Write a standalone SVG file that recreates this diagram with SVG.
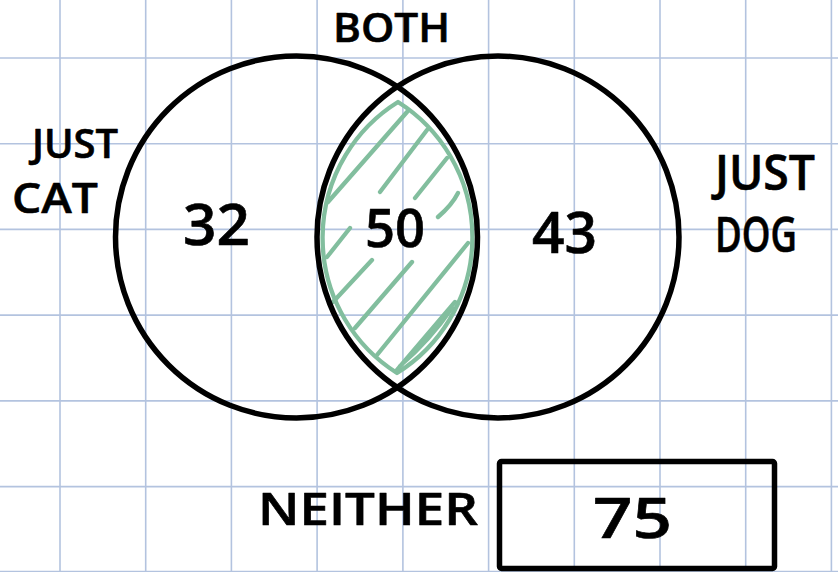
<svg xmlns="http://www.w3.org/2000/svg" width="838" height="572" viewBox="0 0 838 572">
<style>
.grid line{stroke:#b3c3df;stroke-width:1.6}
.ink{fill:none;stroke:#000;stroke-width:5.5;stroke-linecap:round;stroke-linejoin:round}
.hatch{fill:none;stroke:#82be9e;stroke-width:4.3;stroke-linecap:round;stroke-linejoin:round}
.lbl{font-family:"Open Sans","Liberation Sans",sans-serif;font-weight:600;fill:#000;stroke:#000;stroke-width:0.6;stroke-linejoin:round}
</style>
<rect width="838" height="572" fill="#fff"/>
<g class="grid" id="grid">
<line x1="60" y1="0" x2="60" y2="572"/>
<line x1="145.7" y1="0" x2="145.7" y2="572"/>
<line x1="231.4" y1="0" x2="231.4" y2="572"/>
<line x1="317.1" y1="0" x2="317.1" y2="572"/>
<line x1="402.9" y1="0" x2="402.9" y2="572"/>
<line x1="488.6" y1="0" x2="488.6" y2="572"/>
<line x1="574.3" y1="0" x2="574.3" y2="572"/>
<line x1="660" y1="0" x2="660" y2="572"/>
<line x1="745.7" y1="0" x2="745.7" y2="572"/>
<line x1="831.4" y1="0" x2="831.4" y2="572"/>
<line x1="0" y1="58" x2="838" y2="58"/>
<line x1="0" y1="143.7" x2="838" y2="143.7"/>
<line x1="0" y1="229.4" x2="838" y2="229.4"/>
<line x1="0" y1="315.1" x2="838" y2="315.1"/>
<line x1="0" y1="400.9" x2="838" y2="400.9"/>
<line x1="0" y1="486.6" x2="838" y2="486.6"/>
<line x1="0" y1="571.6" x2="838" y2="571.6"/>
</g>
<g id="both-region">
<path class="hatch" d="M398,102 A160,160 0 0 0 397,373 A160,160 0 0 0 398,102 Z"/>
<path class="hatch" d="M328,202 L407,112 M380,192 L427,130 M415,198 L447,158 M438,217 Q452,205 458,193 M327,257 L350,228 M333,302 L372,260 M355,328 L412,262 M377,355 L468,243 M397,370 L455,302 M400,366 Q430,340 452,308"/>
</g>
<g id="just-cat">
<circle class="ink" cx="296.5" cy="237" r="181"/>
</g>
<g id="just-dog">
<circle class="ink" cx="498" cy="237" r="181"/>
</g>
<g id="neither">
<rect class="ink" x="499.5" y="461.5" width="275" height="107" rx="2"/>
</g>
<g id="connectors"></g>
<g id="labels">
<text class="lbl" x="333" y="42" font-size="40" textLength="117" lengthAdjust="spacingAndGlyphs">BOTH</text>
<text class="lbl" x="32" y="158" font-size="39" textLength="86" lengthAdjust="spacingAndGlyphs">JUST</text>
<text class="lbl" x="12" y="213" font-size="42" textLength="86" lengthAdjust="spacingAndGlyphs">CAT</text>
<text class="lbl" x="715" y="190" font-size="48" textLength="100" lengthAdjust="spacingAndGlyphs">JUST</text>
<text class="lbl" x="715" y="252" font-size="48" textLength="82" lengthAdjust="spacingAndGlyphs">DOG</text>
<text class="lbl" x="183" y="245" font-size="58" textLength="67" lengthAdjust="spacingAndGlyphs">32</text>
<text class="lbl" x="365" y="247" font-size="52" textLength="60" lengthAdjust="spacingAndGlyphs">50</text>
<text class="lbl" x="532" y="253" font-size="57" textLength="65" lengthAdjust="spacingAndGlyphs">43</text>
<text class="lbl" x="258" y="525" font-size="46" textLength="220" lengthAdjust="spacingAndGlyphs">NEITHER</text>
<text class="lbl" x="593" y="538" font-size="56" textLength="79" lengthAdjust="spacingAndGlyphs">75</text>
</g>
</svg>
